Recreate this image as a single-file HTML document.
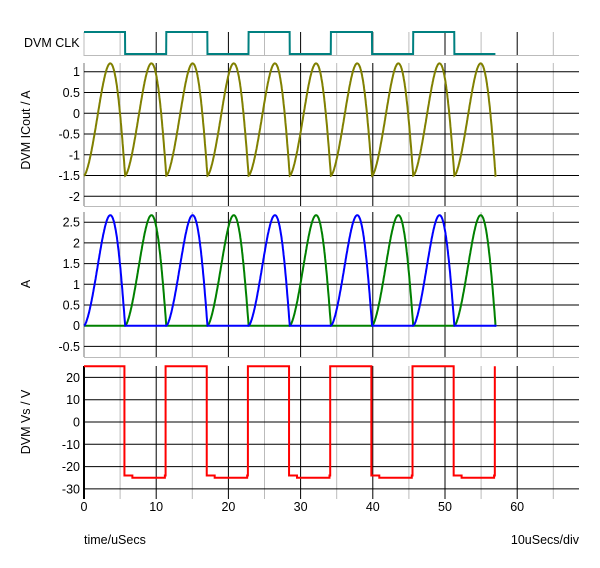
<!DOCTYPE html>
<html><head><meta charset="utf-8"><style>
body{margin:0;background:#fff;}
svg text{font-family:"Liberation Sans",Arial,sans-serif;font-size:12.5px;fill:#000;}
</style></head><body>
<svg id="s" width="600" height="563" xmlns="http://www.w3.org/2000/svg"></svg>
<script>
const s=document.getElementById('s');let h='';
const X=t=>84+t*7.22;
const XR=579;
function vgrid(y1,y2){for(let t=5;t*7.22+84<XR;t+=5){const x=X(t);h+=`<line x1="${x}" y1="${y1}" x2="${x}" y2="${y2}" stroke="${t%10==0?'#000':'#bbb'}" stroke-width="1"/>`;}}
function hline(y,c){h+=`<line x1="84" y1="${y}" x2="${XR}" y2="${y}" stroke="${c}" stroke-width="1"/>`;}
function lab(y,txt){h+=`<text x="80" y="${y+4.5}" text-anchor="end">${txt}</text>`;}
vgrid(32,55);hline(55.5,'#bbb');
h+=`<line x1="84" y1="32" x2="84" y2="56" stroke="#bbb"/>`;
h+=`<text x="24" y="47">DVM CLK</text>`;
vgrid(63,206);hline(206.5,'#bbb');
h+=`<line x1="84" y1="63" x2="84" y2="206" stroke="#bbb" stroke-width="2"/>`;
const p2=[[1,71.7],[0.5,92.5],[0,113.3],[-0.5,134],[-1,154.8],[-1.5,175.5],[-2,196.3]];
p2.forEach(([v,y])=>{hline(y,'#000');lab(y,v);});
h+=`<text transform="translate(30,130) rotate(-90)" text-anchor="middle">DVM ICout / A</text>`;
vgrid(212,357);hline(357.5,'#bbb');
h+=`<line x1="84" y1="212" x2="84" y2="357" stroke="#bbb" stroke-width="2"/>`;
const Y3=v=>325.7-v*41.4;
[2.5,2,1.5,1,0.5,0,-0.5].forEach(v=>{hline(Y3(v),'#000');lab(Y3(v),v);});
h+=`<text transform="translate(30,284) rotate(-90)" text-anchor="middle">A</text>`;
vgrid(366,499);
const Y4=v=>422-v*2.23;
[20,10,0,-10,-20,-30].forEach(v=>{hline(Y4(v),'#000');lab(Y4(v),v);});
h+=`<line x1="84" y1="366" x2="84" y2="499" stroke="#000" stroke-width="2"/>`;
h+=`<text transform="translate(30,422) rotate(-90)" text-anchor="middle">DVM Vs / V</text>`;
[0,10,20,30,40,50,60].forEach(t=>{h+=`<text x="${X(t)}" y="511" text-anchor="middle">${t}</text>`;});
h+=`<text x="84" y="544">time/uSecs</text><text x="579" y="544" text-anchor="end">10uSecs/div</text>`;
const P=5.7,TEND=57.1,k=1.55;
const f=p=>Math.sin(Math.PI*Math.pow(p,k));
let c=`M${X(0)},32`;
for(let i=0;i<10;i++){const a=i*P,b=(i+1)*P;const hi=i%2==0;const y=hi?32:54;c+=` L${X(a)},${y} L${X(Math.min(b,TEND)-0.02)},${y}`;}
h+=`<path d="${c}" fill="none" stroke="#008080" stroke-width="2"/>`;
let d='';for(let t=0;t<=TEND;t+=0.05){const p=(t%P)/P;const v=-1.5+2.7*f(p);const y=113.3-v*41.6;d+=(d?' L':'M')+X(t).toFixed(1)+','+y.toFixed(1);}
h+=`<path d="${d}" fill="none" stroke="#808000" stroke-width="2"/>`;
let bl='',gr='';for(let t=0;t<=TEND;t+=0.05){const i=Math.floor(t/P);const p=(t%P)/P;const v=2.67*f(p);const vb=i%2==0?v:0,vg=i%2==1?v:0;
bl+=(bl?' L':'M')+X(t).toFixed(1)+','+Y3(vb).toFixed(1);gr+=(gr?' L':'M')+X(t).toFixed(1)+','+Y3(vg).toFixed(1);}
h+=`<path d="${gr}" fill="none" stroke="#008000" stroke-width="2"/><path d="${bl}" fill="none" stroke="#0000ff" stroke-width="2"/>`;
let r=`M${X(0)},${Y4(25)}`;
for(let i=0;i<10;i++){const a=i*P,b=Math.min((i+1)*P,TEND);if(i%2==0){r+=` L${X(a)},${Y4(25)} L${X(b-0.1)},${Y4(25)} L${X(b-0.1)},${Y4(-24)}`;}else{r+=` L${X(a+1)},${Y4(-24)} L${X(a+1)},${Y4(-25)} L${X(b-0.2)},${Y4(-25)} L${X(b-0.2)},${Y4(-24)} L${X(b-0.1)},${Y4(-24)}`;if(b<TEND)r+=` L${X(b-0.1)},${Y4(25)}`;else r+=` L${X(b)},${Y4(25)}`;}}
h+=`<path d="${r}" fill="none" stroke="#ff0000" stroke-width="2"/>`;
s.innerHTML=h;
</script>
</body></html>
